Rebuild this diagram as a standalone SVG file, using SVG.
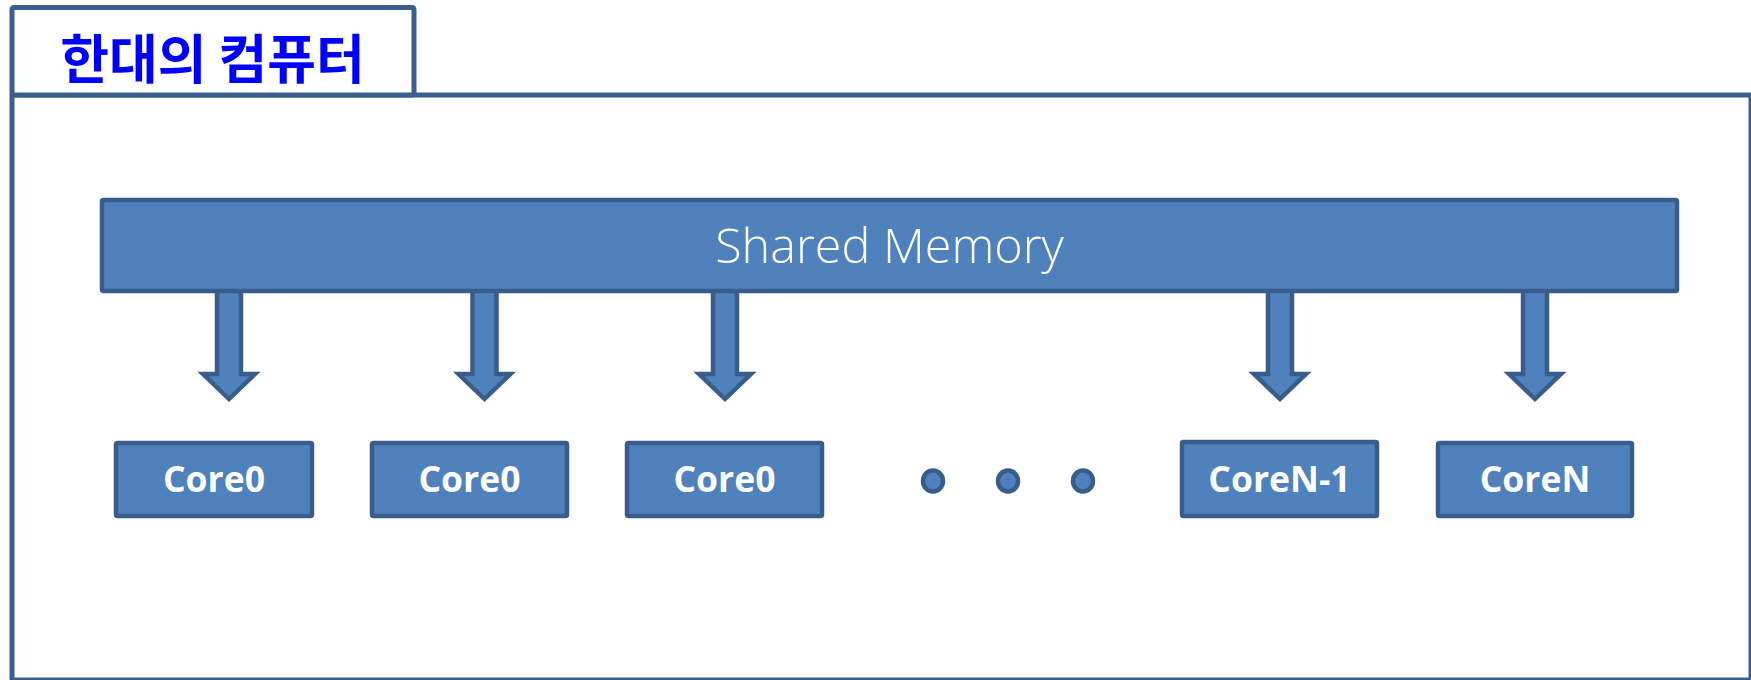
<svg xmlns="http://www.w3.org/2000/svg" width="1751" height="680" viewBox="0 0 1751 680">
  <style>
    .frame { fill: #ffffff; stroke: #3A5F8E; stroke-width: 5; stroke-linejoin: round; }
    .blk { fill: #4F81BD; stroke: #385D8A; stroke-width: 4.5; stroke-linejoin: miter; }
    .arrow { fill: #4F81BD; stroke: #385D8A; stroke-width: 4.5; stroke-linejoin: miter; stroke-miterlimit: 10; }
    .dot { fill: #4F81BD; stroke: #385D8A; stroke-width: 4.5; }
    .title { font-family: "Noto Sans CJK KR", "Noto Sans", sans-serif; font-weight: 700; font-size: 53px; fill: #0000FF; }
    .mem { font-family: "Open Sans", "Noto Sans", sans-serif; font-weight: 300; font-size: 48.5px; fill: #ffffff; }
    .core { font-family: "Open Sans", "Noto Sans", sans-serif; font-weight: 700; font-size: 35.5px; fill: #ffffff; }
  </style>

  <!-- outer computer frame with its title tab -->
  <g id="computer">
    <rect class="frame" x="12" y="95" width="1739" height="585"/>
    <rect class="frame" x="12" y="7.5" width="402" height="87.5" rx="2"/>
    <text class="title" x="212.5" y="56" text-anchor="middle" dominant-baseline="central">한대의 컴퓨터</text>
  </g>

  <!-- connectors: block arrows from memory down to each core -->
  <g id="connectors">
    <path class="arrow" d="M217,290 H241 V374 H255 L229,399 L203,374 H217 Z"/>
    <path class="arrow" d="M472.5,290 H496.5 V374 H510.5 L484.5,399 L458.5,374 H472.5 Z"/>
    <path class="arrow" d="M713,290 H737 V374 H751 L725,399 L699,374 H713 Z"/>
    <path class="arrow" d="M1268,290 H1292 V374 H1306 L1280,399 L1254,374 H1268 Z"/>
    <path class="arrow" d="M1523,290 H1547 V374 H1561 L1535,399 L1509,374 H1523 Z"/>
  </g>

  <g id="shared-memory">
    <rect class="blk" x="102" y="200" width="1575" height="91" rx="1.5"/>
    <text class="mem" x="889.5" y="263" text-anchor="middle">Shared Memory</text>
  </g>

  <g id="core-1">
    <rect class="blk" x="116" y="443" width="196" height="73" rx="1.5"/>
    <text class="core" x="214" y="492" text-anchor="middle">Core0</text>
  </g>
  <g id="core-2">
    <rect class="blk" x="372" y="443" width="195" height="73" rx="1.5"/>
    <text class="core" x="469.5" y="492" text-anchor="middle">Core0</text>
  </g>
  <g id="core-3">
    <rect class="blk" x="627" y="443" width="195" height="73" rx="1.5"/>
    <text class="core" x="724.5" y="492" text-anchor="middle">Core0</text>
  </g>

  <!-- ellipsis between the cores -->
  <g id="ellipsis">
    <ellipse class="dot" cx="933" cy="481" rx="10" ry="10.5"/>
    <ellipse class="dot" cx="1008" cy="481" rx="10" ry="10.5"/>
    <ellipse class="dot" cx="1083" cy="481" rx="10" ry="10.5"/>
  </g>

  <g id="core-n-1">
    <rect class="blk" x="1182" y="442" width="195" height="74" rx="1.5"/>
    <text class="core" x="1279.5" y="492" text-anchor="middle">CoreN-1</text>
  </g>
  <g id="core-n">
    <rect class="blk" x="1438" y="443" width="194" height="73" rx="1.5"/>
    <text class="core" x="1535" y="492" text-anchor="middle">CoreN</text>
  </g>
</svg>
